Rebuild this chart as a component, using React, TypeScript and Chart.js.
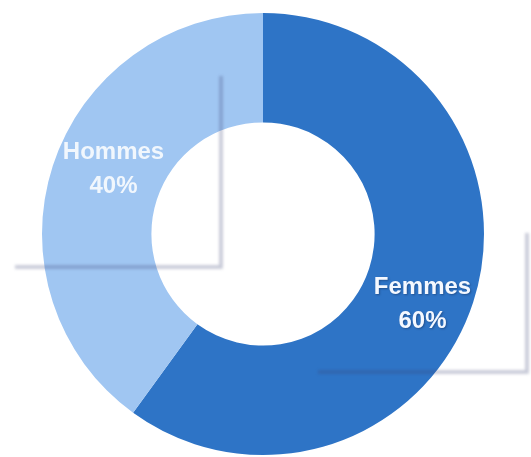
import React, { useEffect, useRef } from "react";
import { Chart, registerables } from "chart.js";

Chart.register(...registerables);

const categories = ["Femmes", "Hommes"];
const values = [60, 40];
const percentLabels = ["60%", "40%"];
const sliceColors = ["#2E74C6", "#A0C6F2"];

const labelPlugin = {
  id: "sliceLabels",
  afterDatasetsDraw(chart: any) {
    const ctx = chart.ctx;
    const meta = chart.getDatasetMeta(0);
    ctx.save();
    meta.data.forEach((arc: any, i: number) => {
      const p = arc.getProps(["x", "y", "startAngle", "endAngle", "innerRadius", "outerRadius"], true);
      const mid = (p.startAngle + p.endAngle) / 2 + (5.5 * Math.PI) / 180;
      const r = p.innerRadius + (p.outerRadius - p.innerRadius) * 0.52;
      const cx = p.x + Math.cos(mid) * r + 5;
      const cy = p.y + Math.sin(mid) * r + 1;
      const size = 24;
      ctx.font = `bold ${size}px 'Liberation Sans', Arial, sans-serif`;
      ctx.textAlign = "center";
      ctx.textBaseline = "alphabetic";
      ctx.fillStyle = i === 0 ? "#F4F8FF" : "rgba(255,255,255,0.85)";
      ctx.shadowColor = i === 0 ? "rgba(20,40,80,0.45)" : "rgba(0,0,0,0)";
      ctx.shadowBlur = 2;
      ctx.shadowOffsetX = 1;
      ctx.shadowOffsetY = 1;
      const cap = size * 0.36;
      ctx.fillText(categories[i], cx, cy - 17 + cap);
      ctx.fillText(percentLabels[i], cx, cy + 17 + cap);
    });
    ctx.restore();
  },
};

const shadowBoxPlugin = {
  id: "shadowBoxes",
  afterDraw(chart: any) {
    const ctx = chart.ctx;
    ctx.save();
    ctx.filter = "blur(1.5px)";
    ctx.lineWidth = 3.5;
    ctx.strokeStyle = "rgba(60,70,115,0.3)";
    ctx.beginPath();
    ctx.moveTo(221, 76);
    ctx.lineTo(221, 267);
    ctx.lineTo(15, 267);
    ctx.stroke();
    ctx.beginPath();
    ctx.moveTo(527, 233);
    ctx.lineTo(527, 372);
    ctx.lineTo(318, 372);
    ctx.stroke();
    ctx.restore();
  },
};

export default function App() {
  const canvasRef = useRef<HTMLCanvasElement | null>(null);

  useEffect(() => {
    if (!canvasRef.current) return;
    const chart = new Chart(canvasRef.current, {
      type: "doughnut",
      data: {
        labels: categories,
        datasets: [
          {
            data: values,
            backgroundColor: sliceColors,
            borderWidth: 0,
          },
        ],
      },
      options: {
        responsive: true,
        maintainAspectRatio: false,
        animation: false,
        cutout: "50.5%",
        layout: { padding: { left: 42, right: 47, top: 13, bottom: 2 } },
        plugins: {
          legend: { display: false },
          tooltip: { enabled: false },
        },
      },
      plugins: [labelPlugin, shadowBoxPlugin],
    });
    return () => chart.destroy();
  }, []);

  return (
    <div style={{ position: "fixed", left: 0, top: 0, width: 531, height: 457, background: "#fff" }}>
      <canvas ref={canvasRef} />
    </div>
  );
}
